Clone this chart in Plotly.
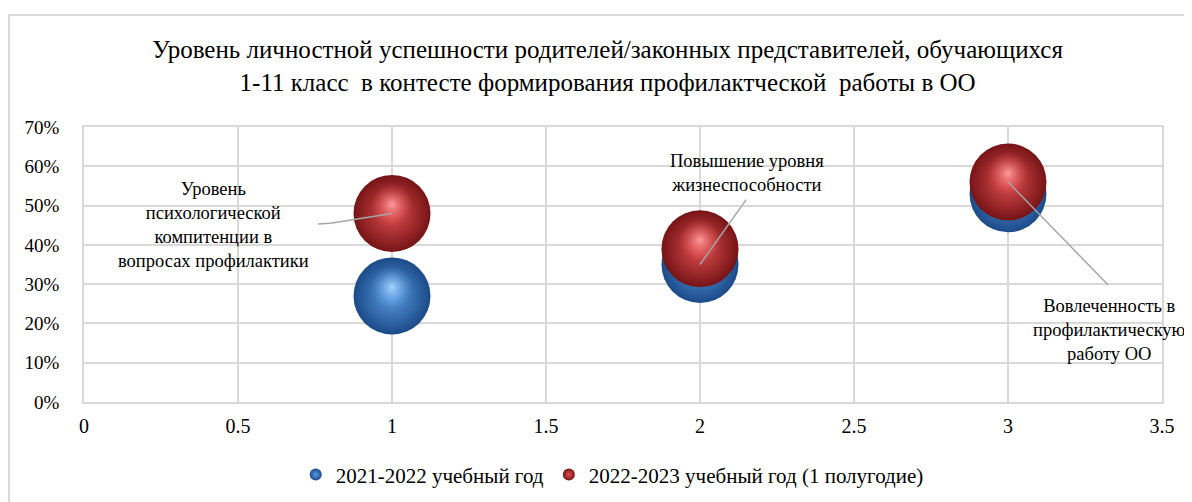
import plotly.graph_objects as go

# data
x_pos = [1, 2, 3]
series_names = ["2021-2022 учебный год", "2022-2023 учебный год (1 полугодие)"]
values_2021 = [0.27, 0.35, 0.53]
values_2022 = [0.48, 0.39, 0.56]
x_ticks = [0, 0.5, 1, 1.5, 2, 2.5, 3, 3.5]
y_ticks = [0, 0.1, 0.2, 0.3, 0.4, 0.5, 0.6, 0.7]

point_labels = [
    "Уровень<br>психологической<br>компитенции в<br>вопросах профилактики",
    "Повышение уровня<br>жизнеспособности",
    "Вовлеченность в<br>профилактическую<br>работу ОО",
]

title_text = ("Уровень личностной успешности родителей/законных представителей, обучающихся<br>"
              "1-11 класс \u00a0в контесте формирования профилактческой \u00a0работы в ОО")

FONT = "Liberation Serif"
GRID = "#D9D9D9"
BUBBLE = 77
HILITE_SHIFT = 0.022  # small upward offset of the specular spot

fig = go.Figure()

styles = [
    (values_2021, series_names[0], "#1B4A88", "#5A9BE0", "rgba(170,215,255,0.95)", "rgba(90,155,224,0)"),
    (values_2022, series_names[1], "#761416", "#E04E50", "rgba(255,160,160,0.95)", "rgba(224,78,80,0)"),
]
for vals, name, edge, mid, spot, spot_edge in styles:
    fig.add_trace(go.Scatter(
        x=x_pos, y=vals, name=name, mode="markers",
        marker=dict(size=BUBBLE, color=edge,
                    gradient=dict(type="radial", color=mid),
                    line=dict(width=0)),
    ))
    fig.add_trace(go.Scatter(
        x=x_pos, y=[v + HILITE_SHIFT for v in vals], mode="markers",
        showlegend=False, hoverinfo="skip",
        marker=dict(size=BUBBLE * 0.55, color=spot_edge,
                    gradient=dict(type="radial", color=spot),
                    line=dict(width=0)),
    ))

# leader lines: from label anchor to the point they describe
leader_targets = [(x_pos[0], values_2022[0]), (x_pos[1], values_2021[1]), (x_pos[2], values_2022[2])]
leader_starts = [(0.80, 0.455), (2.15, 0.515), (3.325, 0.298)]
for (tx, ty), (sx, sy) in zip(leader_targets, leader_starts):
    fig.add_shape(type="line", x0=sx, y0=sy, x1=tx, y1=ty, xref="x", yref="y",
                  line=dict(color="#A6A6A6", width=1.5))
fig.add_shape(type="line", x0=0.76, y0=0.453, x1=0.80, y1=0.455, xref="x", yref="y",
              line=dict(color="#A6A6A6", width=1.5))

label_pos = [(0.42, 0.45), (2.153, 0.583), (3.33, 0.183)]
for text, (lx, ly) in zip(point_labels, label_pos):
    fig.add_annotation(x=lx, y=ly, xref="x", yref="y", text=text, showarrow=False,
                       font=dict(family=FONT, size=18.5, color="#000000"),
                       align="center")

# outer chart border
fig.add_shape(type="rect", xref="paper", yref="paper", x0=-0.0695, x1=1.2, y0=-0.6, y1=1.407,
              line=dict(color=GRID, width=2), fillcolor="rgba(0,0,0,0)", layer="below")

fig.update_layout(
    width=1192, height=502,
    margin=dict(l=76, r=38, t=119, b=108),
    paper_bgcolor="white", plot_bgcolor="white",
    font=dict(family=FONT, size=18, color="#000000"),
    title=dict(text=title_text, x=0.503, xanchor="center", y=0.9, yanchor="middle",
               font=dict(family=FONT, size=25, color="#000000")),
    legend=dict(orientation="h", x=0.49, xanchor="center", y=-0.265, yanchor="middle",
                itemsizing="constant", font=dict(family=FONT, size=21)),
    showlegend=True,
)
fig.update_xaxes(range=[0, 3.5], tickvals=x_ticks, ticktext=[f"{v:g}" for v in x_ticks],
                 showgrid=True, gridcolor=GRID, gridwidth=1.5, zeroline=False,
                 showline=True, linecolor=GRID, linewidth=1.5, mirror=True,
                 ticks="", ticklabelstandoff=5, tickfont=dict(family=FONT, size=20))
fig.update_yaxes(range=[0, 0.7], tickvals=y_ticks, ticktext=[f"{round(v*100)}%" for v in y_ticks],
                 showgrid=True, gridcolor=GRID, gridwidth=1.5, zeroline=False,
                 showline=True, linecolor=GRID, linewidth=1.5, mirror=True,
                 ticks="", ticklabelstandoff=19, tickfont=dict(family=FONT, size=19))

fig.write_html("out.html")
